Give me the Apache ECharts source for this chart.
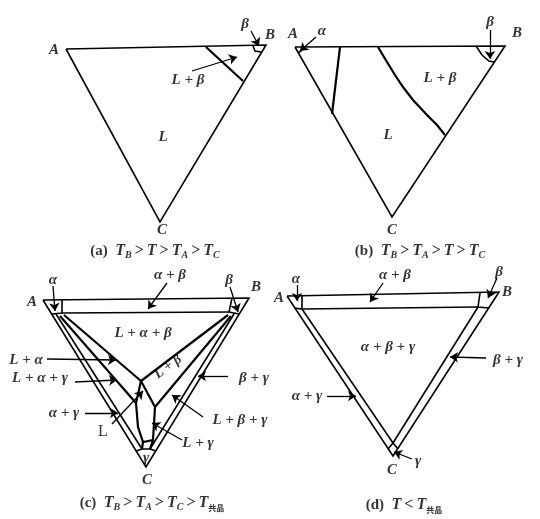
<!DOCTYPE html>
<html><head><meta charset="utf-8">
<script src="https://cdn.jsdelivr.net/npm/echarts@6/dist/echarts.min.js"></script>
<style>html,body{margin:0;padding:0;background:#fff}#c{width:540px;height:519px}</style>
</head><body><div id="c"></div><script>
// ---- panel (a) ----
const aOutline = [[66,49],[266,45],[160,222],[66,49]];
const aLiquidus = [[206,47],[243,81]];
const aBetaSolvus = [[253,46],[255,51],[261,52]];
const aArrows = [[[251,31],[259,46]], [[192,71],[237,57]]];
const aLabels = [['A',54,50],['B',270,35],['β',245,24],['L + β',188,80],['L',163,137],['C',162,230]];
// ---- panel (b) ----
const bOutline = [[295,47],[505,46],[392,217],[295,47]];
const bAlphaLiquidus = [[340,47],[332,114]];
const bBetaLiquidus = [[378,47],[387,62],[395,75],[403,87],[413,100],[427,115],[437,125],[445,135]];
const bAlphaSolvus = [[302,47],[301,51],[298,53]];
const bBetaSolvus = [[476,46],[482,55],[489,61],[494,62]];
const bArrows = [[[316,37],[300,51]], [[490,30],[490,59]]];
const bLabels = [['A',293,34],['α',322,31],['β',490,22],['B',517,33],['L + β',440,78],['L',388,135],['C',392,230]];
// ---- panel (c) ----
const cOutline = [[43,300],[249,298],[146,467],[43,300]];
const cBandTop = [[62,313],[229,312]];
const cBandLeft = [[56,314],[142,449]];
const cBandRight = [[234,314],[150,449]];
const cAlphaCorner = [[62,300],[62,313],[52,314]];
const cBetaCorner = [[232,298],[229,312],[239,314]];
const cGammaCorner = [[136,451],[142,449],[150,449],[156,451]];
const cLiquid = [[141,381],[136,403],[138,427],[143,442],[153,440],[155,407],[141,381]];
const cTieLines = [[[64,315],[141,381]], [[228,315],[141,381]], [[231,316],[155,407]], [[60,316],[136,403]], [[143,442],[142,449]], [[153,440],[150,449]]];
const cArrows = [[[53,286],[55,311]], [[167,283],[148,309]], [[230,287],[238,312]], [[47,359],[116,360]],
  [[75,382],[117,380]], [[85,413],[118,413]], [[112,424],[143,391]], [[203,417],[172,395]], [[228,376],[198,376]], [[182,440],[152,423]]];
const cLabels = [['A',32,302],['α',53,280],['α + β',170,275],['β',229,280],['B',256,287],['L + α + β',143,333],
  ['L + α',26,360],['L + α + γ',40,378],['α + γ',64,413],['L + β + γ',240,420],['β + γ',254,378],['L + γ',198,443],['γ',146,458],['C',147,480]];
const cUprightLabels = [['L',103,432]];
const cRotatedLabels = [['L + β',168,367,37]];
// ---- panel (d) ----
const dOutline = [[287,296],[499,292],[393,456],[287,296]];
const dBandTop = [[302,309],[478,307]];
const dBandLeft = [[302,309],[393,443]];
const dBandRight = [[478,307],[393,443]];
const dAlphaCorner = [[302,295],[302,309],[294,308]];
const dBetaCorner = [[480,293],[478,307],[489,308]];
const dGammaCorner = [[388,449],[393,443],[398,449]];
const dArrows = [[[297,285],[297,301]], [[383,283],[370,302]], [[497,278],[488,298]], [[486,358],[450,357]], [[327,396],[356,396]], [[412,459],[394,452]]];
const dLabels = [['A',279,298],['α',296,279],['α + β',395,275],['β',499,272],['B',507,292],['α + β + γ',388,347],['β + γ',508,360],['α + γ',307,396],['γ',418,461],['C',392,470]];
// ---- captions ----
const captions = [
  ['(a)  {i|T}{s|B}{g|>}{i|T}{g|>}{i|T}{s|A}{g|>}{i|T}{s|C}',155,251],
  ['(b)  {i|T}{s|B}{g|>}{i|T}{s|A}{g|>}{i|T}{g|>}{i|T}{s|C}',420,251],
  ['(c)  {i|T}{s|B}{g|>}{i|T}{s|A}{g|>}{i|T}{s|C}{g|>}{i|T}{c|共晶}',152,503],
  ['(d)  {i|T}{g|<}{i|T}{c|共晶}',404,505]
];

const thin = [aOutline,bOutline,cOutline,dOutline,aBetaSolvus,bAlphaSolvus,bBetaSolvus,
  cBandTop,cBandLeft,cBandRight,cAlphaCorner,cBetaCorner,cGammaCorner,
  dBandTop,dBandLeft,dBandRight,dAlphaCorner,dBetaCorner,dGammaCorner];
const thick = [aLiquidus,bAlphaLiquidus,bBetaLiquidus,cLiquid].concat(cTieLines);
const arrows = [].concat(aArrows,bArrows,cArrows,dArrows);
const italicLabels = [].concat(aLabels,bLabels,cLabels,dLabels);

const serif = 'Liberation Serif';
const toItems = arr => arr.map(l => ({name:l[0], value:[l[1],l[2]]}));

const chart = echarts.init(document.getElementById('c'), null, {renderer:'canvas'});
chart.setOption({
  animation:false,
  backgroundColor:'#fff',
  grid:{left:0,right:0,top:0,bottom:0},
  xAxis:{type:'value',min:0,max:540,show:false},
  yAxis:{type:'value',min:0,max:519,inverse:true,show:false},
  series:[
    {type:'lines',coordinateSystem:'cartesian2d',polyline:true,silent:true,
     lineStyle:{color:'#000',width:1.6,opacity:1},
     data:thin.map(c=>({coords:c}))},
    {type:'lines',coordinateSystem:'cartesian2d',polyline:true,silent:true,
     lineStyle:{color:'#000',width:2.2,opacity:1},
     data:thick.map(c=>({coords:c}))},
    {type:'lines',coordinateSystem:'cartesian2d',silent:true,
     symbol:['none','arrow'],symbolSize:8,
     lineStyle:{color:'#000',width:1.3,opacity:1},
     data:arrows.map(c=>({coords:c}))},
    {type:'scatter',symbolSize:0,silent:true,
     label:{show:true,position:'inside',formatter:'{b}',color:'#000',fontFamily:serif,fontStyle:'italic',fontWeight:'bold',fontSize:15},
     data:toItems(italicLabels)},
    {type:'scatter',symbolSize:0,silent:true,
     label:{show:true,position:'inside',formatter:'{b}',color:'#000',fontFamily:serif,fontSize:16},
     data:toItems(cUprightLabels)},
    {type:'scatter',symbolSize:0,silent:true,
     label:{show:true,position:'inside',formatter:'{b}',color:'#000',fontFamily:serif,fontStyle:'italic',fontWeight:'bold',fontSize:14},
     data:cRotatedLabels.map(l=>({name:l[0],value:[l[1],l[2]],label:{rotate:l[3]}}))},
    {type:'scatter',symbolSize:0,silent:true,
     label:{show:true,position:'inside',formatter:'{b}',color:'#000',fontFamily:serif,fontSize:15,fontWeight:'bold',lineHeight:18,
       rich:{
         i:{fontFamily:serif,fontStyle:'italic',fontWeight:'bold',fontSize:16,lineHeight:18,color:'#000'},
         s:{fontFamily:serif,fontStyle:'italic',fontWeight:'bold',fontSize:10,lineHeight:10,verticalAlign:'bottom',color:'#000'},
         g:{fontFamily:serif,fontSize:16,fontWeight:'bold',lineHeight:18,padding:[0,3,0,3],color:'#000'},
         c:{fontFamily:'Noto Sans CJK SC',fontSize:8,fontWeight:'bold',lineHeight:9,verticalAlign:'bottom',color:'#000'}
       }},
     data:toItems(captions)}
  ]
});
</script></body></html>
